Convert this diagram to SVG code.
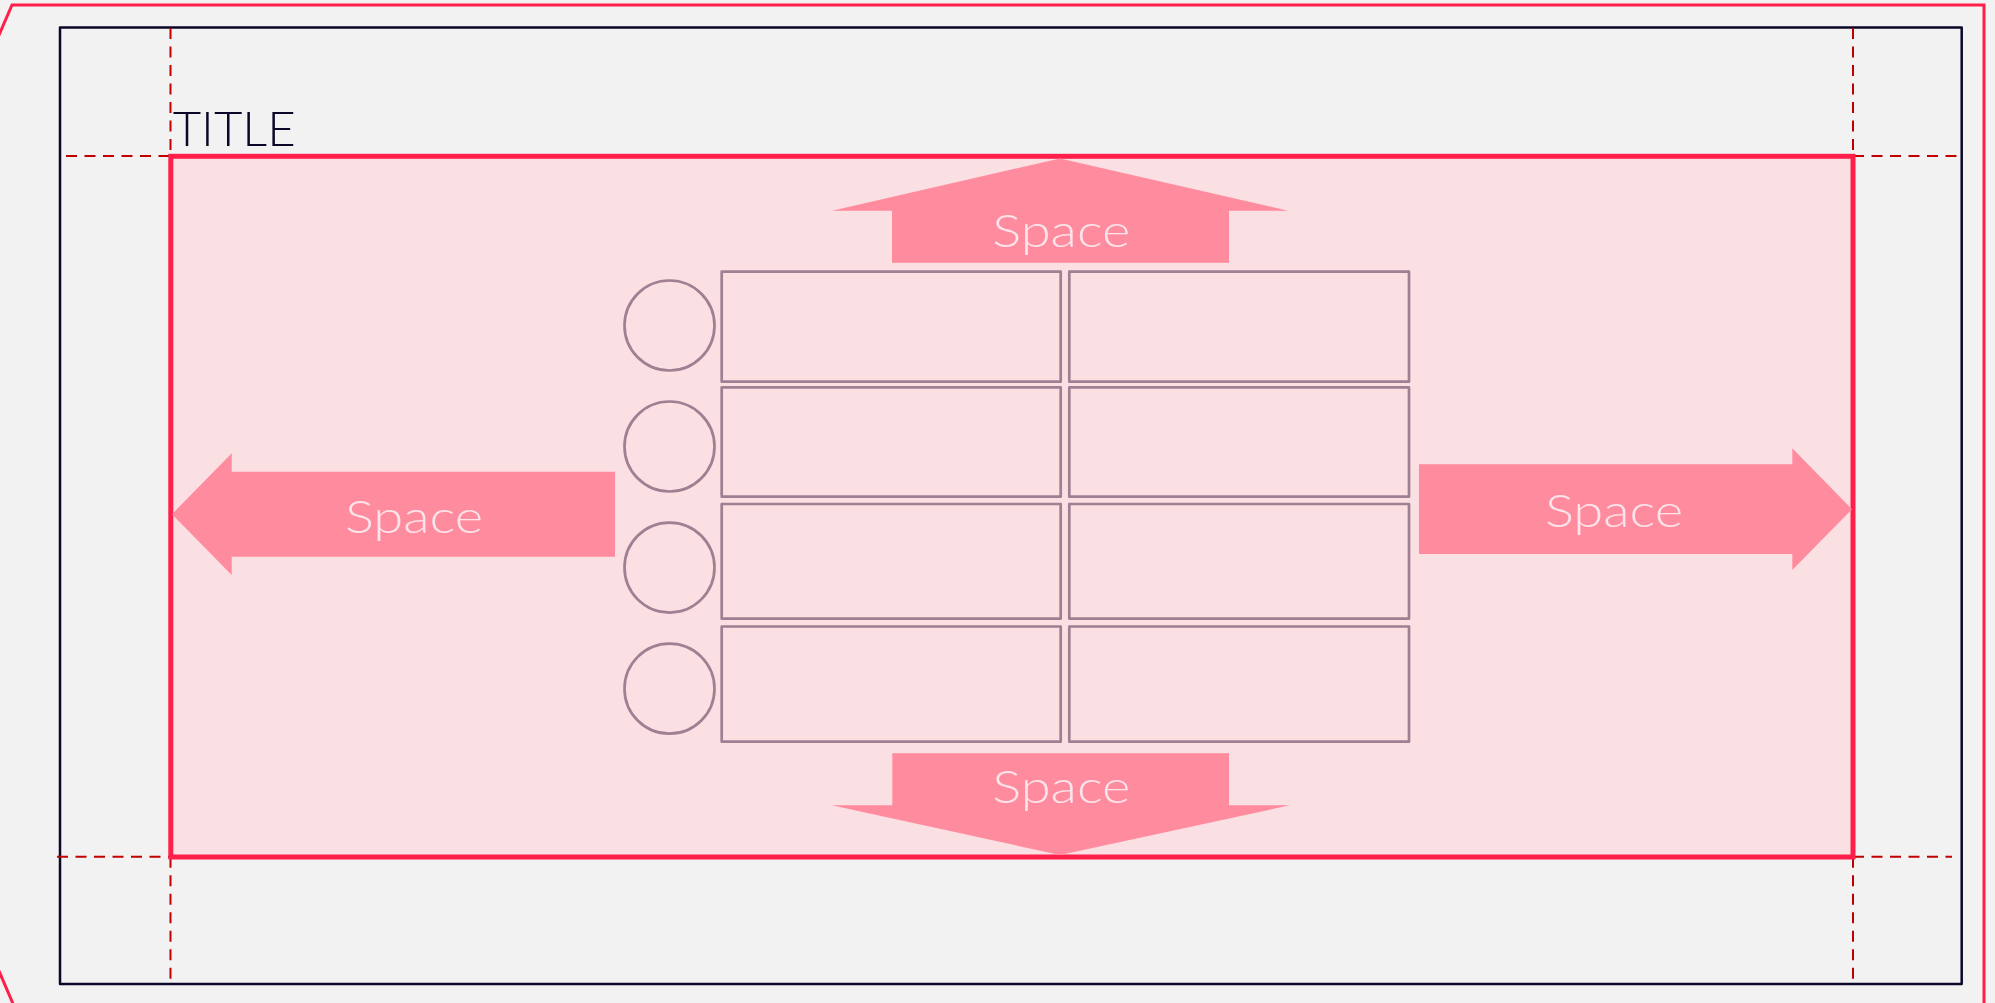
<svg xmlns="http://www.w3.org/2000/svg" width="1995" height="1003" viewBox="0 0 1995 1003">
<style>
.outer{fill:none;stroke:#ff1f4b;stroke-width:3}
.frame{fill:none;stroke:#0d0628;stroke-width:2.5;stroke-linejoin:round}
.guide{fill:none;stroke:#c00000;stroke-width:2;stroke-dasharray:11 7.5}
.area{fill:#fadfe3;stroke:#ff1f4b;stroke-width:5}
.arrow{fill:#ff8b9e}
.lbl{font-family:Lato,"Open Sans","Liberation Sans",sans-serif;font-weight:300;font-size:46px;fill:#fde4ea}
.title{font-family:Lato,"Open Sans","Liberation Sans",sans-serif;font-weight:300;font-size:47px;fill:#0d0628}
.cell{fill:none;stroke:#9f7f91;stroke-width:2.7;stroke-linejoin:round}
</style>
<rect x="0" y="0" width="1995" height="1003" fill="#f2f2f2"/>
<path class="outer" d="M-10,56 L12,5 L1984,5 L1984,1010"/>
<path class="outer" d="M-10,950 L14,1006"/>
<rect class="frame" x="60" y="27.5" width="1901.7" height="956.5"/>
<g id="guides">
<line class="guide" x1="170.5" y1="28" x2="170.5" y2="156"/>
<line class="guide" x1="66" y1="156" x2="170.5" y2="156"/>
<line class="guide" x1="1853" y1="28" x2="1853" y2="156"/>
<line class="guide" x1="1853" y1="156" x2="1961" y2="156"/>
<line class="guide" x1="57" y1="856.7" x2="170.5" y2="856.7"/>
<line class="guide" x1="170.5" y1="856.7" x2="170.5" y2="984"/>
<line class="guide" x1="1853" y1="856.7" x2="1952" y2="856.7"/>
<line class="guide" x1="1853" y1="856.7" x2="1853" y2="984"/>
</g>
<rect id="area" class="area" x="170.8" y="156.3" width="1682.2" height="700.7"/>
<text id="title" class="title" x="172.7" y="145.5" textLength="123" lengthAdjust="spacingAndGlyphs">TITLE</text>
<g id="arrow-top">
<polygon class="arrow" points="1060,158.5 1288,210.7 1229,210.7 1229,262.7 892,262.7 892,210.7 832,210.7"/>
<text class="lbl" x="992.3" y="246.7" textLength="138" lengthAdjust="spacingAndGlyphs">Space</text>
</g>
<g id="arrow-bottom">
<polygon class="arrow" points="1060,855 1290,805.3 1229,805.3 1229,753.3 892.3,753.3 892.3,805.3 831.7,805.3"/>
<text class="lbl" x="992.3" y="803.3" textLength="138" lengthAdjust="spacingAndGlyphs">Space</text>
</g>
<g id="arrow-left">
<polygon class="arrow" points="172,514.2 231.7,453.3 231.7,471.7 615,471.7 615,556.7 231.7,556.7 231.7,575"/>
<text class="lbl" x="345" y="532.7" textLength="138" lengthAdjust="spacingAndGlyphs">Space</text>
</g>
<g id="arrow-right">
<polygon class="arrow" points="1852,509.2 1792.3,448.3 1792.3,464.3 1419,464.3 1419,554 1792.3,554 1792.3,570"/>
<text class="lbl" x="1545" y="526.7" textLength="138" lengthAdjust="spacingAndGlyphs">Space</text>
</g>
<g id="row1">
<circle class="cell" cx="669.5" cy="325.5" r="45"/>
<rect class="cell" x="721.7" y="271.7" width="339" height="110"/>
<rect class="cell" x="1069.3" y="271.7" width="339.7" height="110"/>
</g>
<g id="row2">
<circle class="cell" cx="669.5" cy="446.5" r="45"/>
<rect class="cell" x="721.7" y="387.3" width="339" height="109.4"/>
<rect class="cell" x="1069.3" y="387.3" width="339.7" height="109.4"/>
</g>
<g id="row3">
<circle class="cell" cx="669.5" cy="567.6" r="45"/>
<rect class="cell" x="721.7" y="504" width="339" height="114.7"/>
<rect class="cell" x="1069.3" y="504" width="339.7" height="114.7"/>
</g>
<g id="row4">
<circle class="cell" cx="669.5" cy="688.7" r="45"/>
<rect class="cell" x="721.7" y="626.5" width="339" height="115.2"/>
<rect class="cell" x="1069.3" y="626.5" width="339.7" height="115.2"/>
</g>
<g id="connectors"></g>
</svg>
